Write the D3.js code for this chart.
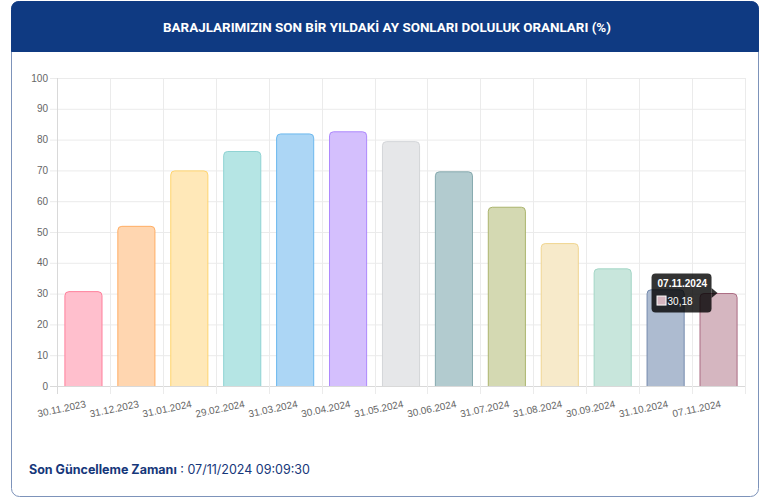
<!DOCTYPE html>
<html>
<head>
<meta charset="utf-8">
<script src="https://cdn.jsdelivr.net/npm/d3@7/dist/d3.min.js"></script>
<style>
html,body{margin:0;padding:0;background:#fff;}
svg{display:block;}
</style>
</head>
<body>
<svg id="chart" width="770" height="504"></svg>
<script>
const categories = ["30.11.2023","31.12.2023","31.01.2024","29.02.2024","31.03.2024","30.04.2024","31.05.2024","30.06.2024","31.07.2024","31.08.2024","30.09.2024","31.10.2024","07.11.2024"];
const values = [30.8, 52.0, 70.0, 76.3, 82.0, 82.7, 79.5, 69.7, 58.2, 46.4, 38.2, 31.4, 30.18];
const fillColors = ["#ffbfcd","#ffd6b0","#ffe8b8","#b5e5e4","#acd6f5","#d4bffd","#e6e7e9","#b2cbcf","#d4d9b2","#f7eaca","#c8e6dc","#adbbd0","#d5b6c0"];
const strokeColors = ["#ff7f9b","#ffae64","#ffd46e","#8fd3d3","#6cb8ee","#ad88fd","#d3d5d8","#86a9ae","#abb46d","#f0d591","#a3d6c6","#7389ad","#ab6c83"];
const yTicks = [0,10,20,30,40,50,60,70,80,90,100];
const title = "BARAJLARIMIZIN SON BİR YILDAKİ AY SONLARI DOLULUK ORANLARI (%)";
const footerLabel = "Son Güncelleme Zamanı";
const footerValue = " : 07/11/2024 09:09:30";
const tooltipIndex = 12;
const tooltipValueText = "30,18";

const svg = d3.select("#chart");

// Card
const cx0 = 11.5, cy0 = 1.5, cw = 747, ch = 495, r = 8, hh = 50;
svg.append("rect").attr("x",cx0).attr("y",cy0).attr("width",cw).attr("height",ch)
  .attr("rx",r).attr("fill","#fff").attr("stroke","#7d93ba").attr("stroke-width",1);
svg.append("path")
  .attr("d",`M${cx0},${cy0+hh} L${cx0},${cy0+r} Q${cx0},${cy0} ${cx0+r},${cy0} L${cx0+cw-r},${cy0} Q${cx0+cw},${cy0} ${cx0+cw},${cy0+r} L${cx0+cw},${cy0+hh} Z`)
  .attr("fill","#0f3a82").attr("stroke","#0f3a82");
svg.append("text").attr("x",387).attr("y",31.5).attr("text-anchor","middle")
  .attr("fill","#fff").attr("font-family","Roboto, 'Open Sans', sans-serif")
  .attr("font-weight","bold").attr("font-size","12.5px")
  .attr("textLength",448).attr("lengthAdjust","spacingAndGlyphs")
  .text(title);

// Scales
const x = d3.scaleBand().domain(categories).range([57,745]).paddingInner(0.28).paddingOuter(0.14);
const y = d3.scaleLinear().domain([0,100]).range([386,78]);
const step = x.step();
const font = "'Liberation Sans', Arial, Helvetica, sans-serif";

const g = svg.append("g");
// horizontal grid
g.selectAll(".hg").data(yTicks).join("line")
  .attr("x1",50).attr("x2",745).attr("y1",d=>y(d)+0.5).attr("y2",d=>y(d)+0.5)
  .attr("stroke",d=>d===0?"#d9d9d9":"#ebebeb").attr("stroke-width",1);
// vertical grid (category boundaries)
const bounds = categories.map(c => x(c) - step*0.14).concat([745]);
g.selectAll(".vg").data(bounds).join("line")
  .attr("x1",d=>Math.round(d)+0.5).attr("x2",d=>Math.round(d)+0.5)
  .attr("y1",78).attr("y2",394)
  .attr("stroke",(d,i)=>i===0?"#d9d9d9":"#ebebeb").attr("stroke-width",1);

// y labels
g.selectAll(".yl").data(yTicks).join("text")
  .attr("x",48).attr("y",d=>y(d)+3.5).attr("text-anchor","end")
  .attr("font-family",font).attr("font-size","10px").attr("fill","#666")
  .text(d=>d);

// bars
const bw = x.bandwidth();
function barPath(x0,y0,w,h,rr){
  rr = Math.min(rr,h,w/2);
  return `M${x0},${y0+h} L${x0},${y0+rr} Q${x0},${y0} ${x0+rr},${y0} L${x0+w-rr},${y0} Q${x0+w},${y0} ${x0+w},${y0+rr} L${x0+w},${y0+h}`;
}
g.selectAll(".bar").data(values).join("path")
  .attr("d",(d,i)=>barPath(x(categories[i])+0.5, y(d)+0.5, bw-1, y(0)-y(d)-0.5, 4))
  .attr("fill",(d,i)=>fillColors[i])
  .attr("stroke",(d,i)=>strokeColors[i]).attr("stroke-width",1);

// x labels
g.selectAll(".xl").data(categories).join("text")
  .attr("transform",d=>`translate(${x(d)+bw/2+3},407) rotate(-12)`)
  .attr("text-anchor","end")
  .attr("font-family",font).attr("font-size","10px").attr("fill","#666")
  .text(d=>d);

// tooltip
const tc = categories[tooltipIndex];
const tipX = x(tc) + bw/2 - 1, tipY = y(values[tooltipIndex]);
const bx = tipX - 66, by = tipY - 19.5, bwid = 60, bh = 39;
const tt = svg.append("g");
tt.append("rect").attr("x",bx).attr("y",by).attr("width",bwid).attr("height",bh).attr("rx",4)
  .attr("fill","rgba(0,0,0,0.8)");
tt.append("path").attr("d",`M${bx+bwid},${tipY-5} L${tipX},${tipY} L${bx+bwid},${tipY+5} Z`)
  .attr("fill","rgba(0,0,0,0.8)");
tt.append("text").attr("x",bx+6).attr("y",by+13).attr("fill","#fff")
  .attr("font-family",font).attr("font-weight","bold").attr("font-size","10px").text(tc);
tt.append("rect").attr("x",bx+5.5).attr("y",by+22.5).attr("width",9).attr("height",9)
  .attr("fill",fillColors[tooltipIndex]).attr("stroke","#fff").attr("stroke-width",1);
tt.append("text").attr("x",bx+16).attr("y",by+31).attr("fill","#fff")
  .attr("font-family",font).attr("font-size","10px").text(tooltipValueText);

// footer
const ft = svg.append("text").attr("x",29).attr("y",474)
  .attr("font-family","Inter, Lato, sans-serif").attr("font-size","12.5px").attr("fill","#16377a");
ft.append("tspan").attr("font-weight","bold").text(footerLabel);
ft.append("tspan").attr("font-weight","normal").text(footerValue);
</script>
</body>
</html>
